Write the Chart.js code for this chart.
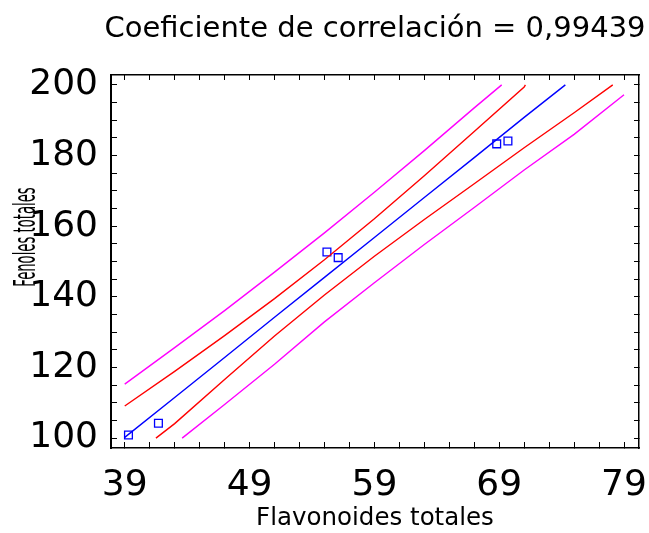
<!DOCTYPE html>
<html>
<head>
<meta charset="utf-8">
<script src="https://cdn.jsdelivr.net/npm/chart.js@4"></script>
<style>
  html, body { margin: 0; padding: 0; background: #fff; }
</style>
</head>
<body>
<canvas id="chart" width="649" height="533"></canvas>
<script>
// valores
var titleText = 'Coeficiente de correlación = 0,99439';
var xTitle = 'Flavonoides totales';
var yTitle = 'Fenoles totales';

var pointsX = [39.3, 41.7, 55.2, 56.1, 68.8, 69.7];
var pointsY = [100.9, 104.2, 152.7, 151.1, 183.3, 184.1];

// recta ajustada
var fitX = [39, 43, 47, 51, 55, 59, 63, 67, 71, 74.3];
var fitY = [100.2, 111.5, 122.8, 134.2, 145.5, 156.8, 168.1, 179.4, 190.8, 200];

// limites de confianza (rojo)
var ciUpperX = [39, 43, 47, 51, 55, 59, 63, 67, 71, 71.1];
var ciUpperY = [109.1, 118.9, 129.0, 139.5, 150.5, 162.1, 174.3, 186.8, 199.4, 200];
var ciLowerX = [41.5, 43, 47, 51, 55, 59, 63, 67, 71, 75, 78.1];
var ciLowerY = [100, 104.1, 116.6, 128.9, 140.5, 151.5, 161.9, 172.0, 182.2, 192.1, 200];

// limites de prediccion (magenta)
var piUpperX = [39, 43, 47, 51, 55, 59, 63, 67, 69.2];
var piUpperY = [115.3, 125.6, 136.1, 147.0, 158.1, 169.6, 181.4, 193.5, 200];
var piLowerX = [43.6, 47, 51, 55, 59, 63, 67, 71, 75, 79];
var piLowerY = [100, 109.5, 120.9, 132.9, 144.0, 154.8, 165.3, 175.9, 186.0, 197.2];

var xTickLabels = [39, 49, 59, 69, 79];
var yTickLabels = [100, 120, 140, 160, 180, 200];
var xMinorStep = 2;
var yMinorStep = 5;

function xy(xs, ys) {
    var out = [];
    for (var i = 0; i < xs.length; i++) out.push({ x: xs[i], y: ys[i] });
    return out;
}

function minorTicks(first, last, step) {
    var t = [];
    for (var v = first; v <= last + 1e-9; v += step) t.push({ value: v });
    return t;
}

// fija el tamaño del eje y quita el margen extra de las etiquetas
function fixSize(axis, size) {
    if (axis.isHorizontal()) axis.height = size; else axis.width = size;
    axis.paddingLeft = 0; axis.paddingRight = 0;
    axis.paddingTop = 0; axis.paddingBottom = 0;
}

var xMin = 37.9, xMax = 80.2, yMin = 97.2, yMax = 202.8;
var font = 'DejaVu Sans';

function lineSet(xs, ys, color) {
    return {
        type: 'scatter', data: xy(xs, ys), showLine: true,
        borderColor: color, borderWidth: 1.4, pointRadius: 0, fill: false, tension: 0
    };
}

var textPlugin = {
    id: 'texts',
    afterDraw: function(chart) {
        var ctx = chart.ctx, area = chart.chartArea;
        ctx.save();
        ctx.fillStyle = '#000';
        ctx.textAlign = 'center';
        ctx.textBaseline = 'alphabetic';
        ctx.font = '29px "' + font + '"';
        ctx.fillText(titleText, (area.left + area.right) / 2, 37);
        // titulo del eje Y, comprimido como en el original
        ctx.translate(27, 237);
        ctx.rotate(-Math.PI / 2);
        ctx.scale(0.44, 1);
        ctx.font = '30px "' + font + '"';
        ctx.textBaseline = 'middle';
        ctx.fillText(yTitle, 0, 0);
        ctx.restore();
    }
};

var hiddenAxis = function(pos, size) {
    var horiz = pos === 'top';
    return {
        type: 'linear', position: pos, display: true,
        min: horiz ? xMin : yMin, max: horiz ? xMax : yMax,
        afterBuildTicks: function(axis) {
            axis.ticks = horiz ? minorTicks(39, 79, xMinorStep) : minorTicks(100, 200, yMinorStep);
        },
        afterFit: function(axis) { fixSize(axis, size); },
        ticks: { display: false },
        grid: { drawOnChartArea: false, tickLength: -5, tickColor: '#000' },
        border: { color: '#000', width: 1.5 }
    };
};

new Chart(document.getElementById('chart'), {
    type: 'scatter',
    data: {
        datasets: [
            lineSet(piUpperX, piUpperY, '#ff00ff'),
            lineSet(piLowerX, piLowerY, '#ff00ff'),
            lineSet(ciUpperX, ciUpperY, '#ff0000'),
            lineSet(ciLowerX, ciLowerY, '#ff0000'),
            lineSet(fitX, fitY, '#0000ff'),
            {
                type: 'scatter', data: xy(pointsX, pointsY),
                pointStyle: 'rect', pointRadius: 5.5, borderWidth: 1.3,
                borderColor: '#0000ff', backgroundColor: 'rgba(0,0,0,0)'
            }
        ]
    },
    options: {
        responsive: false,
        animation: false,
        devicePixelRatio: 1,
        layout: { padding: 0 },
        plugins: { legend: { display: false }, tooltip: { enabled: false }, title: { display: false } },
        scales: {
            x: {
                type: 'linear', position: 'bottom', min: xMin, max: xMax,
                afterBuildTicks: function(axis) { axis.ticks = minorTicks(39, 79, xMinorStep); },
                afterFit: function(axis) { fixSize(axis, 85); },
                ticks: {
                    autoSkip: false, maxRotation: 0, padding: 22, color: '#000',
                    font: { family: font, size: 36 },
                    callback: function(v) { return xTickLabels.indexOf(v) >= 0 ? String(v) : ''; }
                },
                grid: { drawOnChartArea: false, tickLength: -6, tickColor: '#000' },
                border: { color: '#000', width: 1.5 },
                title: {
                    display: true, text: xTitle, color: '#000',
                    font: { family: font, size: 24.5 }, padding: { top: 0, bottom: 0 }
                }
            },
            y: {
                type: 'linear', position: 'left', min: yMin, max: yMax,
                afterBuildTicks: function(axis) { axis.ticks = minorTicks(100, 200, yMinorStep); },
                afterFit: function(axis) { fixSize(axis, 111); },
                ticks: {
                    autoSkip: false, padding: 19, color: '#000',
                    font: { family: font, size: 36 },
                    callback: function(v) { return yTickLabels.indexOf(v) >= 0 ? String(v) : ''; }
                },
                grid: { drawOnChartArea: false, tickLength: -6, tickColor: '#000' },
                border: { color: '#000', width: 2 }
            },
            x2: hiddenAxis('top', 75),
            y2: hiddenAxis('right', 10)
        }
    },
    plugins: [textPlugin]
});
</script>
</body>
</html>
